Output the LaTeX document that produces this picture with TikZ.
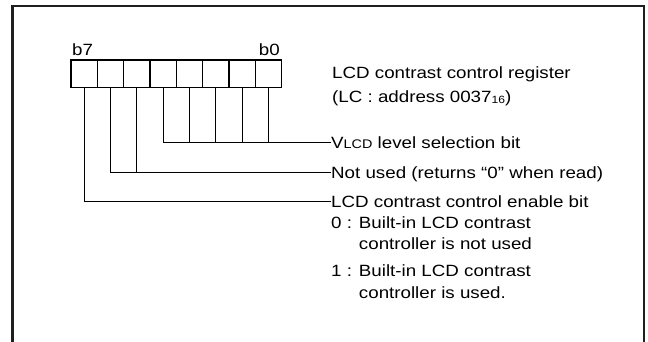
\documentclass[tikz,border=0pt]{standalone}
\usepackage{fontspec}
\setmainfont{Liberation Sans}[FakeStretch=1.15]
\begin{document}
\begin{tikzpicture}[x=1pt,y=-1pt,
  frame/.style={line width=2.5pt,draw=black!88},
  cell/.style={draw,line width=1.3pt,minimum width=26.33pt,minimum height=27.3pt,inner sep=0pt,outer sep=0pt},
  lbl/.style={inner sep=0pt,anchor=west,text height=14pt,text depth=2.4pt,font=\fontsize{16.3}{19}\selectfont},
  bitlbl/.style={inner sep=0pt,text height=14pt,text depth=2.4pt,font=\fontsize{16.3}{19}\selectfont},
  conn/.style={line width=1pt,draw=black}]
\useasboundingbox (0,0) rectangle (648,342);
% frame (open at bottom)
\draw[frame] (12.5,342) -- (12.5,6) -- (644,6) -- (644,342);
% register cells
\foreach \i in {0,...,7}{
  \node[cell] (c\i) at ({268.35-26.33*\i},73.65) {};
}
\node[bitlbl,anchor=west] (b7) at (72,50) {b7};
\node[bitlbl,anchor=east] (b0) at (280,50) {b0};
% texts
\node[lbl] (reg1) at (332,73) {LCD contrast control register};
\node[lbl] (reg2) at (332,97) {(LC : address 0037{\fontsize{10.5}{12}\selectfont\raisebox{-1pt}{16}})};
\node[lbl] (vlcd) at (331,142.7) {V{\fontsize{12.5}{14}\selectfont LCD} level selection bit};
\node[lbl] (nu) at (331,172.7) {Not used (returns “0” when read)};
\node[lbl] (en) at (331,201.3) {LCD contrast control enable bit};
\node[lbl] (e0a) at (331,223) {0 : Built-in LCD contrast};
\node[lbl] (e0b) at (331,244) {\hphantom{0 : }controller is not used};
\node[lbl] (e1a) at (331,271) {1 : Built-in LCD contrast};
\node[lbl] (e1b) at (331,293) {\hphantom{1 : }controller is used.};
% connectors
\foreach \i in {0,...,4}{ \draw[conn] (c\i.south) |- (vlcd.west); }
\foreach \i in {5,6}{ \draw[conn] (c\i.south) |- (nu.west); }
\draw[conn] (c7.south) |- (en.west);
\end{tikzpicture}
\end{document}
